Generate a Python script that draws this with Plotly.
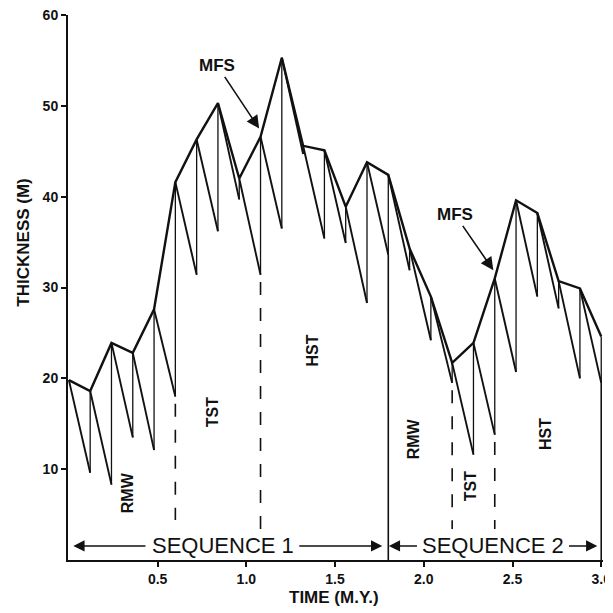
import plotly.graph_objects as go

# ---- data ----
cycle_times = [0.0, 0.12, 0.24, 0.36, 0.48, 0.60, 0.72, 0.84, 0.96, 1.08, 1.20, 1.32, 1.44,
               1.56, 1.68, 1.80, 1.92, 2.04, 2.16, 2.28, 2.40, 2.52, 2.64, 2.76, 2.88, 3.00]
# thickness at top of each cycle (upper envelope)
cycle_tops = [19.8, 18.6, 23.9, 22.8, 27.6, 41.6, 46.3, 50.3, 42.0, 46.6, 55.3, 45.6, 45.1,
              38.9, 43.8, 42.4, 34.3, 29.0, 21.7, 23.9, 31.0, 39.6, 38.2, 30.7, 29.9, 24.6]
# thickness at base of each cycle (end of the preceding decline); none at t=0
cycle_bases = [None, 9.6, 8.3, 13.5, 12.1, 18.0, 31.4, 36.2, 39.7, 31.4, 36.5, 44.7, 35.4,
               34.9, 28.3, 33.6, 31.9, 24.2, 19.5, 11.6, 13.8, 20.7, 29.0, 27.7, 20.0, 19.5]

systems_tract_times = [0.60, 1.08, 2.16, 2.40]   # dashed boundaries
systems_tract_bottom = [4.4, 3.2, 3.4, 3.4]
sequence_boundary_times = [1.80, 3.00]             # solid boundaries
mfs_times = [1.08, 2.40]

x_tick_vals = [0.5, 1.0, 1.5, 2.0, 2.5, 3.0]
x_tick_text = ["0.5", "1.0", "1.5", "2.0", "2.5", "3.0"]
y_tick_vals = [10, 20, 30, 40, 50, 60]
y_tick_text = ["10", "20", "30", "40", "50", "60"]

FONT = "Liberation Sans, Arial, Helvetica, sans-serif"
INK = "#111111"

fig = go.Figure()

# verticals (instant aggradation at each cycle)
vx, vy = [], []
for t, lo, hi in zip(cycle_times, cycle_bases, cycle_tops):
    if lo is None:
        continue
    vx += [t, t, None]
    vy += [lo, hi, None]
fig.add_trace(go.Scatter(x=vx, y=vy, mode="lines", line=dict(color=INK, width=1.3),
                         hoverinfo="skip", showlegend=False))

# declines from each top to the next base
dx, dy = [], []
for i in range(len(cycle_times) - 1):
    dx += [cycle_times[i], cycle_times[i + 1], None]
    dy += [cycle_tops[i], cycle_bases[i + 1], None]
fig.add_trace(go.Scatter(x=dx, y=dy, mode="lines", line=dict(color=INK, width=1.9),
                         hoverinfo="skip", showlegend=False))

# upper envelope
fig.add_trace(go.Scatter(x=cycle_times, y=cycle_tops, mode="lines",
                         line=dict(color=INK, width=2.4), hoverinfo="skip", showlegend=False))

# dashed systems-tract boundaries
for t, bot in zip(systems_tract_times, systems_tract_bottom):
    lo = cycle_bases[cycle_times.index(t)]
    fig.add_trace(go.Scatter(x=[t, t], y=[lo - 0.8, bot], mode="lines",
                             line=dict(color=INK, width=1.6, dash="13px,13px"),
                             hoverinfo="skip", showlegend=False))

# solid sequence boundaries
for t in sequence_boundary_times:
    lo = cycle_bases[cycle_times.index(t)]
    fig.add_trace(go.Scatter(x=[t, t], y=[lo, 0], mode="lines",
                             line=dict(color=INK, width=1.6),
                             hoverinfo="skip", showlegend=False))

ann = []
# MFS arrows pointing at the envelope
mfs_text_pos = [(0.837, 54.4), (2.177, 38.0)]
for t, (tx, ty) in zip(mfs_times, mfs_text_pos):
    ann.append(dict(x=t - 0.008, y=cycle_tops[cycle_times.index(t)] + 0.9, ax=tx, ay=ty,
                    axref="x", ayref="y", xref="x", yref="y", text="<b>MFS</b>",
                    showarrow=True, arrowhead=2, arrowsize=1.6, arrowwidth=1.6,
                    arrowcolor=INK, font=dict(family=FONT, size=17, color=INK)))

# systems tract labels (rotated)
tract_labels = [("RMW", 0.33, 7.4), ("TST", 0.814, 16.3), ("HST", 1.372, 23.1),
                ("RMW", 1.94, 13.3), ("TST", 2.268, 8.15), ("HST", 2.685, 13.9)]
for txt, tx, ty in tract_labels:
    ann.append(dict(x=tx, y=ty, xref="x", yref="y", text="<b>%s</b>" % txt, showarrow=False,
                    textangle=-90, xanchor="center", yanchor="middle",
                    font=dict(family=FONT, size=16, color=INK)))

# sequence labels and arrows
seq_y = 1.55
ann.append(dict(x=0.866, y=seq_y, xref="x", yref="y", text="SEQUENCE 1", showarrow=False,
                xanchor="center", yanchor="middle", font=dict(family=FONT, size=22, color=INK)))
ann.append(dict(x=2.39, y=seq_y, xref="x", yref="y", text="SEQUENCE 2", showarrow=False,
                xanchor="center", yanchor="middle", font=dict(family=FONT, size=22, color=INK)))
seq_arrows = [(0.025, 0.44), (1.766, 1.29), (1.803, 1.97), (2.978, 2.81)]
for tip, tail in seq_arrows:
    ann.append(dict(x=tip, y=seq_y, ax=tail, ay=seq_y, axref="x", ayref="y", xref="x",
                    yref="y", text="", showarrow=True, arrowhead=2, arrowsize=1.5,
                    arrowwidth=1.5, arrowcolor=INK))

# axis titles
ann.append(dict(x=-0.0825, y=0.582, xref="paper", yref="paper", text="<b>THICKNESS (M)</b>",
                textangle=-90, showarrow=False, xanchor="center", yanchor="middle",
                font=dict(family=FONT, size=17, color=INK)))
ann.append(dict(x=0.497, y=-0.068, xref="paper", yref="paper", text="<b>TIME (M.Y.)</b>",
                showarrow=False, xanchor="center", yanchor="middle",
                font=dict(family=FONT, size=17, color=INK)))

# page body has an 8px margin, so the figure is drawn 8px smaller and offset
fig.update_layout(
    width=605, height=605,
    margin=dict(l=60, r=10, t=7, b=53, autoexpand=False),
    paper_bgcolor="white", plot_bgcolor="white",
    annotations=ann,
    showlegend=False,
)
fig.update_xaxes(range=[-0.005, 3.01], showgrid=False, zeroline=False, showline=True,
                 linecolor=INK, linewidth=2, ticks="outside", ticklen=5, tickwidth=1.5,
                 tickcolor=INK, tickvals=x_tick_vals, ticklabeloverflow="allow",
                 automargin=False,
                 ticktext=["<b>%s</b>" % s for s in x_tick_text],
                 tickfont=dict(family=FONT, size=14, color=INK))
fig.update_yaxes(range=[0, 60], showgrid=False, zeroline=False, showline=True,
                 linecolor=INK, linewidth=2, ticks="outside", ticklen=5, tickwidth=1.5,
                 tickcolor=INK, tickvals=y_tick_vals, ticklabeloverflow="allow",
                 automargin=False,
                 ticktext=["<b>%s</b>" % s for s in y_tick_text],
                 tickfont=dict(family=FONT, size=14, color=INK))

fig.write_html("out.html")
